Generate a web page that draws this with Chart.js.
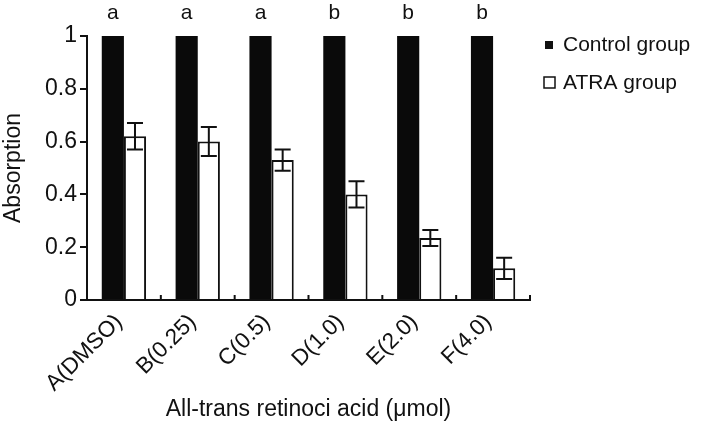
<!DOCTYPE html>
<html>
<head>
<meta charset="utf-8">
<script src="https://cdn.jsdelivr.net/npm/chart.js@4.4.0/dist/chart.umd.min.js"></script>
<style>
  body { margin: 0; background: #fff; }
</style>
</head>
<body>
<canvas id="mycanvas" width="713" height="431"></canvas>
<script>
var categories = ["A(DMSO)", "B(0.25)", "C(0.5)", "D(1.0)", "E(2.0)", "F(4.0)"];
var controlValues = [1, 1, 1, 1, 1, 1];
var atraValues = [0.62, 0.60, 0.53, 0.40, 0.235, 0.12];
var atraErrors = [0.05, 0.055, 0.04, 0.05, 0.03, 0.04];
var sigLetters = ["a", "a", "a", "b", "b", "b"];
var yTicks = [0, 0.2, 0.4, 0.6, 0.8, 1];
var seriesNames = ["Control group", "ATRA group"];

var FONT = '"Liberation Sans", Arial, sans-serif';
var INK = "#111";

// error bars, letters, little up-ticks on x axis, legend
var extras = {
  id: "extras",
  afterDatasetsDraw: function(chart) {
    var ctx = chart.ctx;
    var x = chart.scales.x, y = chart.scales.y;
    var m0 = chart.getDatasetMeta(0), m1 = chart.getDatasetMeta(1);
    ctx.save();
    ctx.strokeStyle = INK;
    ctx.lineWidth = 2;
    for (var i = 0; i < atraValues.length; i++) {
      var bx = m1.data[i].x;
      var t = y.getPixelForValue(atraValues[i] + atraErrors[i]);
      var b = y.getPixelForValue(atraValues[i] - atraErrors[i]);
      ctx.beginPath();
      ctx.moveTo(bx, t); ctx.lineTo(bx, b);
      ctx.moveTo(bx - 8, t); ctx.lineTo(bx + 8, t);
      ctx.moveTo(bx - 8, b); ctx.lineTo(bx + 8, b);
      ctx.stroke();
    }
    // ticks pointing up at category edges
    var w = (x.right - x.left) / categories.length;
    ctx.beginPath();
    for (var k = 1; k <= categories.length; k++) {
      var tx = x.left + k * w;
      ctx.moveTo(tx, x.top); ctx.lineTo(tx, x.top - 5);
    }
    ctx.stroke();

    ctx.fillStyle = INK;
    ctx.font = "21px " + FONT;
    ctx.textAlign = "center";
    ctx.textBaseline = "middle";
    for (var j = 0; j < sigLetters.length; j++) {
      ctx.fillText(sigLetters[j], m0.data[j].x, 13);
    }

    // legend
    ctx.textAlign = "left";
    ctx.font = "21px " + FONT;
    ctx.fillRect(545, 41, 8, 8);
    ctx.fillText(seriesNames[0], 563, 45);
    ctx.lineWidth = 1.5;
    ctx.strokeRect(544, 77, 11, 11);
    ctx.fillText(seriesNames[1], 563, 83);
    ctx.restore();
  }
};

var chartdata = {
  labels: categories,
  datasets: [
    {
      label: seriesNames[0],
      data: controlValues,
      backgroundColor: "#0a0a0a",
      borderWidth: 0,
      barPercentage: 1,
      categoryPercentage: 0.6
    },
    {
      label: seriesNames[1],
      data: atraValues,
      backgroundColor: "#ffffff",
      borderColor: INK,
      borderWidth: 2,
      barPercentage: 1,
      categoryPercentage: 0.6
    }
  ]
};

var ctx = document.getElementById("mycanvas");

var BarGraph = new Chart(ctx, {
  type: "bar",
  data: chartdata,
  plugins: [extras],
  options: {
    responsive: false,
    animation: false,
    layout: { padding: { left: 0, top: 36, right: 183, bottom: 0 } },
    plugins: {
      legend: { display: false },
      tooltip: { enabled: false }
    },
    scales: {
      x: {
        afterFit: function(s) { s.height = 131; },
        grid: { display: false },
        border: { display: true, color: INK, width: 2 },
        ticks: {
          color: INK,
          font: { family: FONT, size: 22.5 },
          minRotation: 45,
          maxRotation: 45,
          autoSkip: false,
          labelOffset: -5,
          padding: 1
        },
        title: {
          display: true,
          text: "All-trans retinoci acid (μmol)",
          color: INK,
          font: { family: FONT, size: 23 },
          padding: { top: 4, bottom: 8 }
        }
      },
      y: {
        min: 0,
        max: 1,
        afterFit: function(s) { s.width = 87; },
        afterBuildTicks: function(s) {
          s.ticks = yTicks.map(function(v) { return { value: v }; });
        },
        grid: {
          display: true,
          drawOnChartArea: false,
          drawTicks: true,
          tickLength: 7,
          color: INK,
          lineWidth: 2
        },
        border: { display: true, color: INK, width: 2 },
        ticks: {
          color: INK,
          font: { family: FONT, size: 23 },
          padding: 3,
          callback: function(v) { return String(Math.round(v * 10) / 10); }
        },
        title: {
          display: true,
          text: "Absorption",
          color: INK,
          font: { family: FONT, size: 23 },
          padding: { top: 0, bottom: 4 }
        }
      }
    }
  }
});
</script>
</body>
</html>
